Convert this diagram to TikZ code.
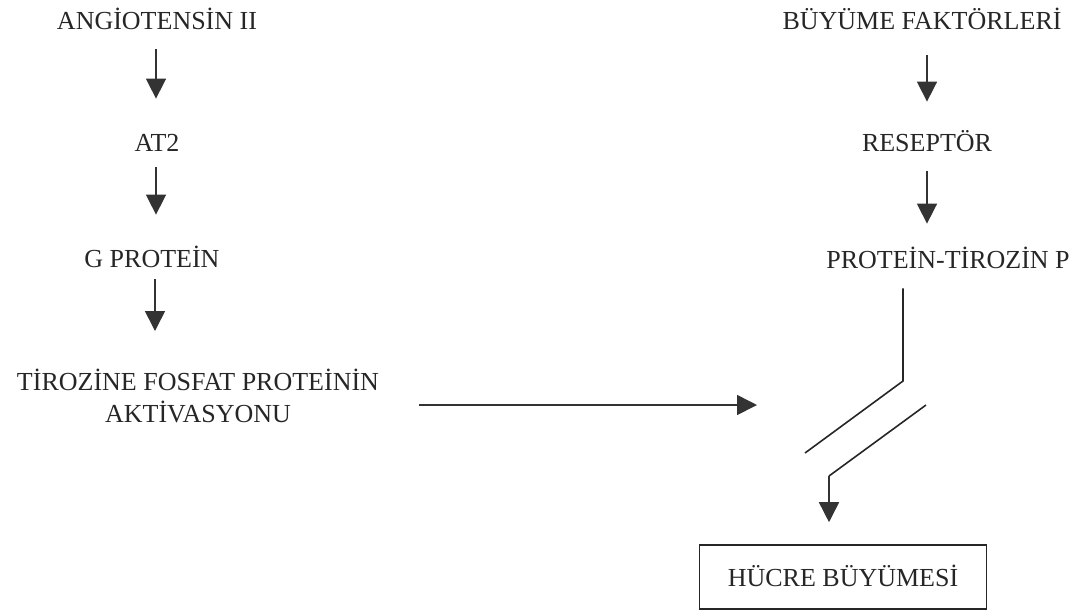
\documentclass[tikz,border=0pt]{standalone}
\usepackage{fontspec}
\setmainfont{Liberation Serif}
\usetikzlibrary{positioning, arrows.meta}

\begin{document}
\begin{tikzpicture}[
                  x=0.5pt, y=-0.5pt,
                  txt/.style={font=\fontsize{13}{16}\selectfont, inner sep=0pt, align=center, text=black!85},
                  lbl/.style={txt, text height=9pt, text depth=0pt},
                  result/.style={lbl, draw=black!85, line width=0.8pt, minimum width=143.5pt, minimum height=32pt},
                  arr/.style={-{Triangle[length=10pt, width=10pt]}, line width=0.8pt, draw=black!80, fill=black!80},
                  flow/.style={arr, shorten <=10pt, shorten >=17pt},
                  wire/.style={line width=0.8pt, draw=black!85},
            ]
            \useasboundingbox (0,0) rectangle (1091,612);

            % Left column: angiotensin pathway
            \node[lbl] (ang) at (157,20) {ANGİOTENSİN II};
            \node[lbl] (at) at (157,142) {AT2};
            \node[lbl] (gp) at (152,258) {G PROTEİN};
            \node[txt, anchor=north] (tir) at (198,369) {TİROZİNE FOSFAT PROTEİNİN\\AKTİVASYONU};

            % Right column: growth factor pathway
            \node[lbl] (bf) at (922,20) {BÜYÜME FAKTÖRLERİ};
            \node[lbl] (rec) at (927,142) {RESEPTÖR};
            \node[lbl] (ptp) at (948,259) {PROTEİN-TİROZİN P};

            % Result
            \node[result] (hb) at (843,577) {HÜCRE BÜYÜMESİ};

            % break points
            \coordinate (gap) at (757,405);
            \coordinate (bk1) at (903,381);
            \coordinate (bk2) at (805,453);
            \coordinate (bk3) at (926,405);
            \coordinate (bk4) at (829,476);

            % Arrows
            \draw[flow] ([xshift=-0.5pt]ang.south) -- ([xshift=-0.5pt]ang.south |- at.north);
            \draw[flow, shorten <=8pt] ([xshift=-0.5pt]at.south) -- ([xshift=-0.5pt]at.south |- gp.north);
            \draw[flow, shorten <=6pt, shorten >=19pt] ([xshift=1.5pt]gp.south) -- ([xshift=1.5pt]gp.south |- tir.north);
            \draw[flow, shorten <=13pt, shorten >=15.5pt] ([xshift=2.5pt]bf.south) -- ([xshift=2.5pt]bf.south |- rec.north);
            \draw[flow, shorten <=10pt, shorten >=13pt] (rec.south) -- (rec.south |- ptp.north);
            \draw[arr, shorten <=20pt] (tir.east |- gap) -- (gap);
            % interrupted link to cell growth
            \draw[wire] ([yshift=-10pt]ptp.south -| bk1) -- (bk1) -- (bk2);
            \draw[wire] (bk3) -- (bk4);
            \draw[arr] (bk4) -- ([yshift=11pt]hb.north -| bk4);

      \end{tikzpicture}
\end{document}
